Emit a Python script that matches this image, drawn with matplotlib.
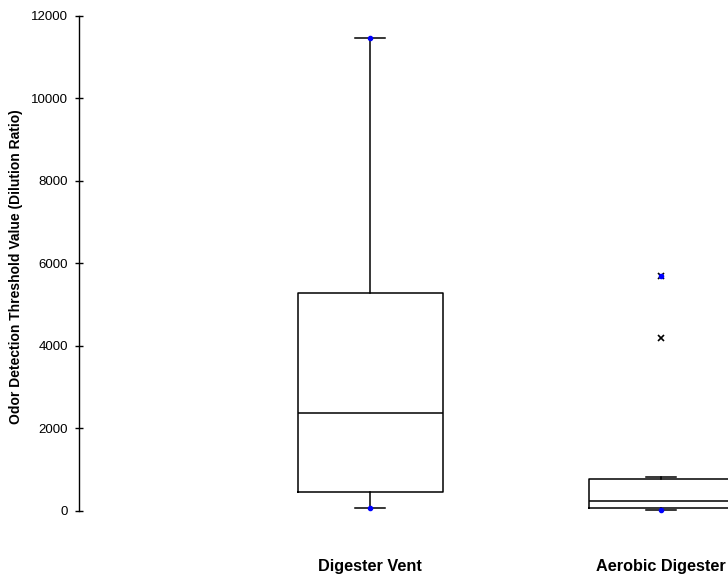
import matplotlib.pyplot as plt

plt.rcParams['font.family'] = ['Liberation Sans', 'DejaVu Sans']

# valori
categories = ['Digester Vent', 'Aerobic Digester']
mins = [70, 25]
q1 = [450, 75]
medians = [2380, 240]
q3 = [5270, 760]
whisker_hi = [11450, 820]
outliers = [[], [4180, 5700]]
maxima = [11450, 5700]

positions = [1, 2]

stats = []
for i in range(len(categories)):
    stats.append({'label': categories[i], 'whislo': mins[i], 'q1': q1[i],
                  'med': medians[i], 'q3': q3[i], 'whishi': whisker_hi[i],
                  'fliers': outliers[i]})

fig = plt.figure(figsize=(7.28, 5.79), dpi=100)
ax = fig.add_axes([79.3 / 728, (579 - 510.7) / 579, 1 - 79.3 / 728, (510.7 - 15.7) / 579])

line = {'color': 'black', 'linewidth': 1.1}
ax.bxp(stats, positions=positions, widths=0.5, capwidths=0.103,
       boxprops=line, whiskerprops=line, capprops=line, medianprops=line,
       flierprops={'marker': 'x', 'markeredgecolor': 'black', 'markersize': 4.5,
                   'markeredgewidth': 1.2, 'linestyle': 'none'})

# punti blu su massimo e minimo
ax.plot(positions, maxima, 'o', color='blue', markersize=3, linestyle='none', clip_on=False)
ax.plot(positions, mins, 'o', color='blue', markersize=3, linestyle='none', clip_on=False)

ax.set_xlim(0, 2.229)
ax.set_ylim(0, 12000)
ax.set_yticks(range(0, 12001, 2000))
ax.set_xticks(positions)
ax.set_xticklabels(categories, fontsize=11.7, fontweight='bold')
ax.tick_params(axis='x', length=0, pad=35)
ax.tick_params(axis='y', direction='inout', length=6, width=1, labelsize=9.5, pad=5)

for s in ['top', 'right', 'bottom']:
    ax.spines[s].set_visible(False)
ax.spines['left'].set_linewidth(1)

fig.text(16 / 728, (579 - 267) / 579, 'Odor Detection Threshold Value (Dilution Ratio)',
         rotation=90, ha='center', va='center', fontsize=10, fontweight='bold')

plt.savefig('out.png', dpi=100)
